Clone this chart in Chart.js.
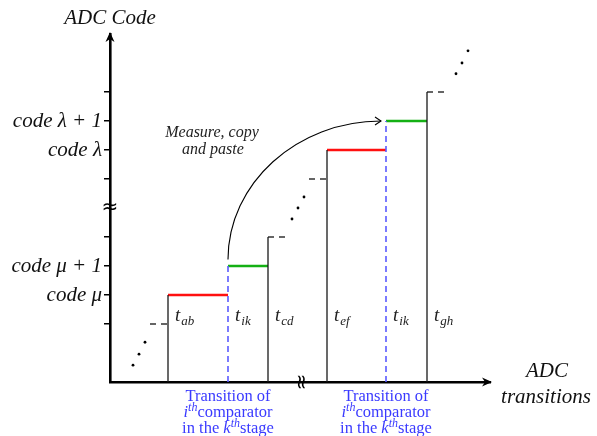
<!DOCTYPE html>
<html>
<head>
<meta charset="utf-8">
<script src="https://cdn.jsdelivr.net/npm/chart.js@4.4.1/dist/chart.umd.min.js"></script>
<style>
  html, body { margin: 0; padding: 0; background: #fff; }
  #wrap { width: 597px; height: 436px; }
</style>
</head>
<body>
<div id="wrap"><canvas id="adc"></canvas></div>
<script>
// ---- staircase data (x: transition axis units, y: code levels) ----
const riseX      = [2.9, 7.9, 10.85, 15.85];   // solid code transitions
const riseTop    = [3, 5, 8, 10];
const transX     = [5.9, 13.8];                // ith comparator of kth stage
const transTop   = [4, 9];
const redFrom    = [2.9, 10.85];
const redTo      = [5.9, 13.8];
const redCode    = [3, 8];
const greenFrom  = [5.9, 13.8];
const greenTo    = [7.9, 15.85];
const greenCode  = [4, 9];
const leadFrom   = [2.0, 7.9, 9.95, 15.85];    // dashed continuation stubs
const leadTo     = [2.9, 8.85, 10.85, 16.75];
const leadCode   = [2, 5, 7, 10];
const dotX       = [1.15, 1.45, 1.75, 9.1, 9.4, 9.7, 17.3, 17.6, 17.9];
const dotY       = [0.58, 0.96, 1.37, 5.62, 6.0, 6.38, 10.63, 11.0, 11.42];
const tickCodes  = [2, 3, 4, 5, 7, 8, 9, 10];
const tickNames  = { 3: 'code μ', 4: 'code μ + 1', 8: 'code λ', 9: 'code λ + 1' };
const widthLabels = ['ab', 'ik', 'cd', 'ef', 'ik', 'gh'];
const widthLabelX = [2.9, 5.9, 7.9, 10.85, 13.8, 15.85];
const widthLabelY = 2.26;
const copyFrom   = [5.9, 4.22];
const copyTo     = [13.55, 9];
const breakY     = 6;     // code axis break
const breakX     = 9.5;   // transition axis break

// helpers turning the arrays into segment lists with gaps
function verticals(xs, tops) {
  const out = [];
  xs.forEach((x, i) => { out.push({x: x, y: 0}, {x: x, y: tops[i]}, {x: x, y: null}); });
  return out;
}
function horizontals(from, to, lvl) {
  const out = [];
  from.forEach((f, i) => { out.push({x: f, y: lvl[i]}, {x: to[i], y: lvl[i]}, {x: to[i], y: null}); });
  return out;
}

const SERIF = "'Liberation Serif', 'DejaVu Serif', serif";
const BLUE = '#3a3aff';

// draws a run of text pieces centred on cx
function drawRich(ctx, parts, cx, y) {
  let w = 0;
  parts.forEach(p => { ctx.font = p.font; w += ctx.measureText(p.t).width; });
  let x = cx - w / 2;
  ctx.textAlign = 'left';
  parts.forEach(p => {
    ctx.font = p.font;
    ctx.fillText(p.t, x, y + (p.dy || 0));
    x += ctx.measureText(p.t).width;
  });
}

const decorations = {
  id: 'decorations',
  afterDatasetsDraw(chart) {
    const ctx = chart.ctx;
    const xs = chart.scales.x, ys = chart.scales.y;
    const area = chart.chartArea;
    ctx.save();

    // axis arrowheads
    ctx.fillStyle = '#000';
    ctx.beginPath();
    ctx.moveTo(area.left, area.top - 2);
    ctx.lineTo(area.left - 4.5, area.top + 8);
    ctx.lineTo(area.left, area.top + 5);
    ctx.lineTo(area.left + 4.5, area.top + 8);
    ctx.closePath();
    ctx.fill();
    ctx.beginPath();
    ctx.moveTo(area.right + 2, area.bottom);
    ctx.lineTo(area.right - 8, area.bottom - 4.5);
    ctx.lineTo(area.right - 5, area.bottom);
    ctx.lineTo(area.right - 8, area.bottom + 4.5);
    ctx.closePath();
    ctx.fill();

    // axis breaks
    ctx.textAlign = 'center';
    ctx.textBaseline = 'middle';
    ctx.font = "20px 'DejaVu Sans', sans-serif";
    ctx.fillText('≈', area.left, ys.getPixelForValue(breakY));
    ctx.save();
    ctx.translate(xs.getPixelForValue(breakX), area.bottom);
    ctx.rotate(Math.PI / 2);
    ctx.fillText('≈', 0, 0);
    ctx.restore();

    // measure, copy and paste arrow
    const p0x = xs.getPixelForValue(copyFrom[0]), p0y = ys.getPixelForValue(copyFrom[1]);
    const p3x = xs.getPixelForValue(copyTo[0]), p3y = ys.getPixelForValue(copyTo[1]);
    const k = 0.55;
    ctx.strokeStyle = '#000';
    ctx.lineWidth = 1.1;
    ctx.beginPath();
    ctx.moveTo(p0x, p0y);
    ctx.bezierCurveTo(p0x, p0y - (p0y - p3y) * k, p3x - (p3x - p0x) * k, p3y, p3x, p3y);
    ctx.stroke();
    ctx.beginPath();
    ctx.moveTo(p3x - 6, p3y - 4);
    ctx.lineTo(p3x, p3y);
    ctx.lineTo(p3x - 6, p3y + 4);
    ctx.stroke();

    ctx.fillStyle = '#222';
    ctx.font = 'italic 16px ' + SERIF;
    ctx.fillText('Measure, copy', 212, 133);
    ctx.fillText('and paste', 213, 150);

    // interval labels t_xx
    ctx.textBaseline = 'alphabetic';
    widthLabels.forEach((s, i) => {
      const x = xs.getPixelForValue(widthLabelX[i]) + 7;
      const y = ys.getPixelForValue(widthLabelY) + 5;
      ctx.textAlign = 'left';
      ctx.font = 'italic 19px ' + SERIF;
      ctx.fillText('t', x, y);
      const tw = ctx.measureText('t').width;
      ctx.font = 'italic 13px ' + SERIF;
      ctx.fillText(s, x + tw + 1, y + 4);
    });

    // axis titles
    ctx.fillStyle = '#111';
    ctx.textAlign = 'center';
    ctx.font = 'italic 21px ' + SERIF;
    ctx.fillText('ADC Code', area.left, 24);
    ctx.fillText('ADC', 547, 377);
    ctx.fillText('transitions', 546, 403);

    // comparator transition notes
    ctx.fillStyle = BLUE;
    const roman = '16.5px ' + SERIF;
    const sup = 'italic 12px ' + SERIF;
    const supI = 'italic 16.5px ' + SERIF;
    transX.forEach(v => {
      const cx = xs.getPixelForValue(v);
      drawRich(ctx, [{t: 'Transition of', font: roman}], cx, 401);
      drawRich(ctx, [{t: 'i', font: supI}, {t: 'th', font: sup, dy: -6}, {t: 'comparator', font: roman}], cx, 417);
      drawRich(ctx, [{t: 'in the ', font: roman}, {t: 'k', font: supI}, {t: 'th', font: sup, dy: -6}, {t: 'stage', font: roman}], cx, 433);
    });
    ctx.restore();
  }
};

const ctx = document.getElementById('adc').getContext('2d');
new Chart(ctx, {
  type: 'line',
  data: {
    datasets: [
      { label: 'rises', data: verticals(riseX, riseTop), borderColor: '#1a1a1a', borderWidth: 1.3 },
      { label: 'leads', data: horizontals(leadFrom, leadTo, leadCode), borderColor: '#333', borderWidth: 1.3, borderDash: [6, 5] },
      { label: 'transitions', data: verticals(transX, transTop), borderColor: '#5a5aff', borderWidth: 1.6, borderDash: [6, 4] },
      { label: 'code before', data: horizontals(redFrom, redTo, redCode), borderColor: '#ff1010', borderWidth: 2.6 },
      { label: 'code after', data: horizontals(greenFrom, greenTo, greenCode), borderColor: '#14b014', borderWidth: 2.6 },
      { label: 'dots', data: dotX.map((x, i) => ({x: x, y: dotY[i]})), showLine: false,
        pointRadius: 1.4, pointBackgroundColor: '#000', pointBorderWidth: 0 }
    ]
  },
  options: {
    responsive: true,
    maintainAspectRatio: false,
    animation: false,
    spanGaps: false,
    elements: { point: { radius: 0 }, line: { tension: 0 } },
    layout: { padding: { top: 34, right: 107, bottom: 0, left: 0 } },
    plugins: { legend: { display: false }, tooltip: { enabled: false } },
    scales: {
      x: {
        type: 'linear', min: 0, max: 19,
        grid: { display: false },
        border: { display: true, color: '#000', width: 2.6 },
        ticks: { display: false },
        afterFit: s => { s.height = 54; }
      },
      y: {
        type: 'linear', min: 0, max: 12,
        afterBuildTicks: s => { s.ticks = tickCodes.map(v => ({ value: v })); },
        grid: { drawOnChartArea: false, drawTicks: true, tickLength: 6, color: '#000', lineWidth: 1.5 },
        border: { display: true, color: '#000', width: 2.6 },
        ticks: {
          padding: 2,
          color: '#111',
          font: { family: SERIF, style: 'italic', size: 21 },
          callback: v => tickNames[v] || ''
        },
        afterFit: s => { s.width = 110; }
      }
    }
  },
  plugins: [decorations]
});
</script>
</body>
</html>
